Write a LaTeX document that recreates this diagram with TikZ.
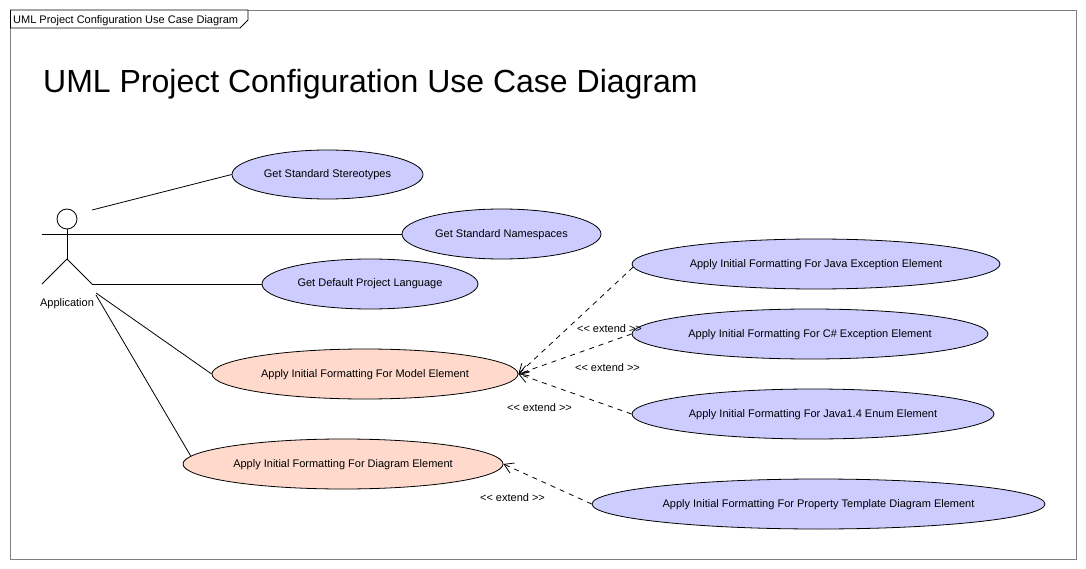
\documentclass[tikz,border=0pt]{standalone}
\usepackage{fontspec}
\setmainfont{Liberation Sans}
\usetikzlibrary{shapes.geometric,arrows.meta}
\definecolor{usecaseblue}{RGB}{204,204,255}
\definecolor{usecasered}{RGB}{255,218,204}
\tikzset{
	usecase/.style={draw,ellipse,inner sep=0pt,font=\fontsize{11}{13}\selectfont,text height=8.5pt,text depth=2.5pt,line width=0.8pt,fill=usecaseblue},
	usecasehot/.style={usecase,fill=usecasered},
	assoc/.style={line width=0.8pt},
	extendline/.style={line width=0.8pt,dash pattern=on 5pt off 5pt,-{Straight Barb[length=9pt,width=11pt,line width=0.8pt]}},
	extendlabel/.style={font=\fontsize{11}{13}\selectfont,inner sep=0pt},
}
\begin{document}
\begin{tikzpicture}[x=1pt,y=-1pt]
	\useasboundingbox (0,0) rectangle (1086,569);
	% frame and its tab
	\draw [line width=0.8pt,gray] (10.5,10) rectangle (1076.5,559);
	\draw [line width=0.8pt,fill=white] (10.5,10) -- (248,10) -- (248,20) -- (240,28) -- (10.5,28) -- cycle;
	\node [anchor=west,inner sep=0pt,font=\fontsize{11}{13}\selectfont] (tabtitle) at (13,20.5) {UML Project Configuration Use Case Diagram};
	\node [anchor=west,inner sep=0pt,font=\fontsize{32}{38}\selectfont] (title) at (43,84) {UML Project Configuration Use Case Diagram};
	% actor
	\node [draw,circle,inner sep=0pt,minimum size=20pt,line width=0.8pt] (head) at (67,219) {};
	\coordinate (armL) at (42,234);
	\coordinate (hip) at (67,259);
	\coordinate (footL) at (42,284);
	\coordinate (footR) at (92,284);
	\coordinate (shoulderR) at (92,210);
	\coordinate (assocA) at (96,293);
	\coordinate (assocB) at (96,295);
	\node [extendlabel] (application) at (67,303.5) {Application};
	% use cases
	\node [usecase,minimum width=191pt,minimum height=49pt] (stereotypes) at (327.5,174.5) {Get Standard Stereotypes};
	\node [usecase,minimum width=199pt,minimum height=50pt] (namespaces) at (501.5,234) {Get Standard Namespaces};
	\node [usecase,minimum width=216pt,minimum height=50pt] (language) at (370,284) {Get Default Project Language};
	\node [usecasehot,minimum width=306pt,minimum height=50pt] (model) at (365,374) {Apply Initial Formatting For Model Element};
	\node [usecasehot,minimum width=320pt,minimum height=50pt] (diagram) at (343,464) {Apply Initial Formatting For Diagram Element};
	\node [usecase,minimum width=368pt,minimum height=50pt] (javaexc) at (816,264) {Apply Initial Formatting For Java Exception Element};
	\node [usecase,minimum width=356pt,minimum height=50pt] (csharpexc) at (810,334) {Apply Initial Formatting For C\# Exception Element};
	\node [usecase,minimum width=362pt,minimum height=50pt] (enumel) at (813,414) {Apply Initial Formatting For Java1.4 Enum Element};
	\node [usecase,minimum width=453pt,minimum height=50pt] (template) at (818.5,504) {Apply Initial Formatting For Property Template Diagram Element};
	% actor lines
	\draw [assoc] (head) -- (hip);
	\draw [assoc] (footL) -- (hip) -- (footR);
	\draw [assoc] (armL) -- (namespaces.west);
	\draw [assoc] (shoulderR) -- (stereotypes.west);
	\draw [assoc] (footR) -- (language.west);
	\draw [assoc] (assocA) -- (model.west);
	\draw [assoc] (assocB) -- (diagram.177.5);
	% extends
	\draw [extendline] (javaexc.181) -- (model.east);
	\draw [extendline] (csharpexc.west) -- (model.east);
	\draw [extendline] (enumel.west) -- (model.east);
	\draw [extendline] (template.west) -- (diagram.east);
	\node [extendlabel] (extendA) at (609.5,328.5) {<{}< extend >{}>};
	\node [extendlabel] (extendB) at (607.5,367.5) {<{}< extend >{}>};
	\node [extendlabel] (extendC) at (539.5,407.5) {<{}< extend >{}>};
	\node [extendlabel] (extendD) at (512.5,497.5) {<{}< extend >{}>};
\end{tikzpicture}
\end{document}
